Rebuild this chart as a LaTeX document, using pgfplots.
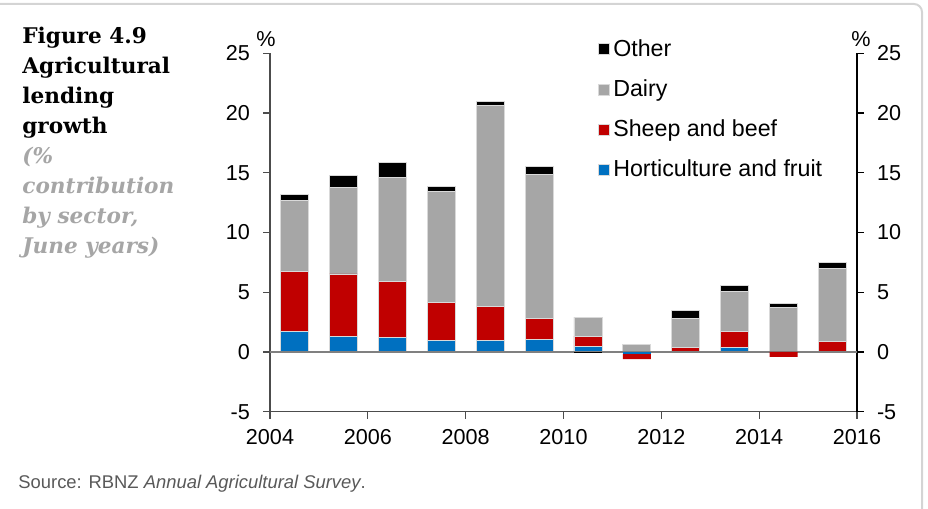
\documentclass[border=0pt]{standalone}
\usepackage{pgfplots}
\pgfplotsset{compat=1.18}
\usepackage{fontspec}
\setmainfont{Liberation Sans}
\newfontfamily\titlefont{DejaVu Serif}
\definecolor{hblue}{HTML}{0070C0}
\definecolor{sred}{HTML}{C00000}
\definecolor{dgray}{HTML}{A6A6A6}
\definecolor{framec}{HTML}{D4D4D4}
\definecolor{axgray}{HTML}{808080}
\definecolor{tgray}{HTML}{A6A6A6}
\definecolor{srcgray}{HTML}{595959}
\definecolor{edgec}{HTML}{D9D9D9}
\pgfplotsset{
  base/.style={
    at={(135pt,48.65pt)}, anchor=south west,
    width=293.5pt, height=179.2pt, scale only axis,
    xmin=2004, xmax=2016, ymin=-5, ymax=25,
    ybar stacked, bar width=14pt,
    ytick={-5,0,5,10,15,20,25}, yticklabels={-5,0,5,10,15,20,25},
    tick align=outside, major tick length=3.5pt,
    ticklabel style={font=\fontsize{10.8}{12}\selectfont},
    clip=false,
  },
  hs/.style={fill=hblue, draw=edgec, line width=0.4pt},
  ss/.style={fill=sred, draw=edgec, line width=0.4pt},
  ds/.style={fill=dgray, draw=edgec, line width=0.4pt},
  os/.style={fill=black, draw=edgec, line width=0.4pt},
}
\begin{document}
\begin{tikzpicture}
\useasboundingbox (0pt,0pt) rectangle (464pt,254.5pt);
\draw[framec, line width=1pt] (0pt,252.5pt) -- (457pt,252.5pt) arc[start angle=90,end angle=0,radius=4pt] -- (461pt,0pt);

\node[anchor=north west, align=left, inner sep=0pt, font=\titlefont\bfseries\fontsize{10.8}{15}\selectfont] at (11pt,241pt)
{Figure 4.9\\Agricultural\\lending\\growth\\\color{tgray}\itshape (\%\\\color{tgray}\itshape contribution\\\color{tgray}\itshape by sector,\\\color{tgray}\itshape June years)};

\node[anchor=base west, inner sep=0pt, font=\fontsize{9.2}{11}\selectfont, text=srcgray] at (9pt,10pt) {Source: RBNZ \textit{Annual Agricultural Survey}.};

\node[font=\fontsize{10.8}{12}\selectfont] at (133pt,235pt) {\%};
\node[font=\fontsize{10.8}{12}\selectfont] at (430.5pt,235pt) {\%};

\begin{axis}[base,
  axis x line*=bottom, axis y line*=left,
  xtick={2004,2006,2008,2010,2012,2014,2016},
  xticklabels={2004,2006,2008,2010,2012,2014,2016},
  tick style={black!70, line width=0.6pt},
  axis line style={black!70, line width=0.6pt, -},
  yticklabel style={xshift=-3pt},
  xticklabel style={yshift=-2pt},
  reverse legend,
  legend style={at={(axis description cs:0.558,1.05)}, anchor=north west,
    draw=none, fill=none, font=\fontsize{11.6}{13}\selectfont,
    row sep=6.6pt, inner sep=0pt, nodes={inner sep=1.8pt}},
  legend cell align=left,
  legend image code/.code={\fill[#1] (-4.3pt,-2.75pt) rectangle (1.2pt,2.75pt);},
]
\addplot[hs] coordinates {(2004.5,1.75) (2005.5,1.3) (2006.5,1.25) (2007.5,0.97) (2008.5,0.97) (2009.5,1.06) (2010.5,0.47) (2011.5,0) (2012.5,0.03) (2013.5,0.39) (2014.5,0) (2015.5,0)};
\addlegendentry{Horticulture and fruit}
\addplot[ss] coordinates {(2004.5,4.97) (2005.5,5.23) (2006.5,4.69) (2007.5,3.17) (2008.5,2.81) (2009.5,1.72) (2010.5,0.86) (2011.5,0) (2012.5,0.33) (2013.5,1.3) (2014.5,0) (2015.5,0.86)};
\addlegendentry{Sheep and beef}
\addplot[ds] coordinates {(2004.5,6.0) (2005.5,7.27) (2006.5,8.67) (2007.5,9.3) (2008.5,16.83) (2009.5,12.05) (2010.5,1.59) (2011.5,0.6) (2012.5,2.42) (2013.5,3.34) (2014.5,3.72) (2015.5,6.14)};
\addlegendentry{Dairy}
\addplot[os] coordinates {(2004.5,0.45) (2005.5,1.0) (2006.5,1.25) (2007.5,0.39) (2008.5,0.39) (2009.5,0.67) (2010.5,0) (2011.5,0) (2012.5,0.69) (2013.5,0.55) (2014.5,0.36) (2015.5,0.5)};
\addlegendentry{Other}
\end{axis}

\begin{axis}[base,
  axis x line=none, axis y line*=right,
  xtick=\empty,
  tick style={black, line width=0.6pt},
  axis line style={black, line width=0.6pt, -},
  yticklabel style={xshift=3pt},
]
\addplot[fill=hblue, draw=none] coordinates {(2004.5,0) (2005.5,0) (2006.5,0) (2007.5,0) (2008.5,0) (2009.5,0) (2010.5,0) (2011.5,-0.15) (2012.5,0) (2013.5,0) (2014.5,0) (2015.5,0)};
\addplot[fill=sred, draw=none] coordinates {(2004.5,0) (2005.5,0) (2006.5,0) (2007.5,0) (2008.5,0) (2009.5,0) (2010.5,0) (2011.5,-0.45) (2012.5,0) (2013.5,0) (2014.5,-0.42) (2015.5,0)};
\addplot[fill=dgray, draw=none] coordinates {(2004.5,0) (2005.5,0) (2006.5,0) (2007.5,0) (2008.5,0) (2009.5,0) (2010.5,0) (2011.5,0) (2012.5,0) (2013.5,0) (2014.5,0) (2015.5,0)};
\addplot[fill=black, draw=none] coordinates {(2004.5,0) (2005.5,0) (2006.5,0) (2007.5,0) (2008.5,0) (2009.5,0) (2010.5,-0.1) (2011.5,0) (2012.5,0) (2013.5,0) (2014.5,0) (2015.5,0)};
\draw[axgray, line width=0.8pt] (axis cs:2004,0) -- (axis cs:2016,0);
\end{axis}
\end{tikzpicture}
\end{document}
